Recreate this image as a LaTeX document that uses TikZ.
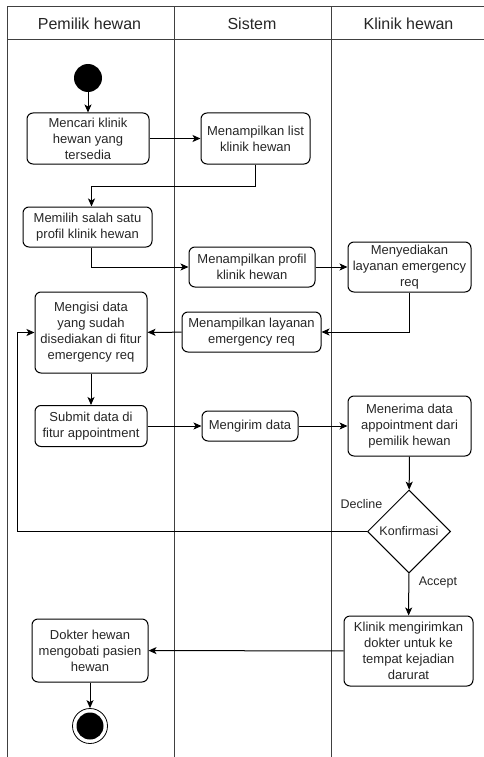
\documentclass[tikz,border=0pt]{standalone}
\usepackage{fontspec}
\setmainfont{Liberation Sans}
\usetikzlibrary{
    calc,
    arrows.meta,
    shapes.geometric
}
\tikzset{
  activity/.style={draw, rounded corners=6pt, line width=1pt, align=center,
    inner sep=1pt, text=black!85, font=\fontsize{13}{16}\selectfont},
  decision/.style={draw, diamond, aspect=1, line width=1pt, inner sep=0pt,
    minimum width=83pt, minimum height=83pt, text=black!85,
    font=\fontsize{12.5}{15}\selectfont},
  flow/.style={line width=1pt, -{Stealth[length=8pt,width=7pt,inset=2pt]}},
  lane/.style={line width=1pt, draw=black!75},
  header/.style={text=black!85, font=\fontsize{16}{19}\selectfont},
  guard/.style={text=black!85, font=\fontsize{12.5}{15}\selectfont}
}

\begin{document}
\begin{tikzpicture}[x=1pt,y=-1pt]
  \useasboundingbox (0,0) rectangle (484,757);

  % swimlanes
  \draw[lane] (484,7) -- (7,7) -- (7,757);
  \draw[lane] (7,40) -- (484,40);
  \draw[lane] (174,7) -- (174,757);
  \draw[lane] (331,7) -- (331,757);

  \node[header] (hdrPemilik) at (89.5,23.5) {Pemilik hewan};
  \node[header] (hdrSistem)  at (252,23.5)  {Sistem};
  \node[header] (hdrKlinik)  at (408.5,23.5) {Klinik hewan};

  % start and end
  \node[circle, fill=black, minimum size=28pt, inner sep=0pt] (start) at (88,78) {};
  \node[circle, draw, line width=0.8pt, minimum size=35pt, inner sep=0pt] (finish) at (90,726) {};
  \fill (finish) circle (13.5);

  % activities
  \node[activity, minimum width=122pt, minimum height=51pt] (cari) at (88,138.5)
    {Mencari klinik\\hewan yang\\tersedia};
  \node[activity, minimum width=109pt, minimum height=51pt] (listKlinik) at (255.5,138.5)
    {Menampilkan list\\klinik hewan};
  \node[activity, minimum width=129pt, minimum height=40pt] (pilih) at (87.5,227)
    {Memilih salah satu\\profil klinik hewan};
  \node[activity, minimum width=126pt, minimum height=40pt] (profil) at (252,267)
    {Menampilkan profil\\klinik hewan};
  \node[activity, minimum width=123pt, minimum height=50pt] (sedia) at (409.5,267)
    {Menyediakan\\layanan emergency\\req};
  \node[activity, minimum width=139pt, minimum height=40pt] (layanan) at (251.5,332)
    {Menampilkan layanan\\emergency req};
  \node[activity, minimum width=112pt, minimum height=81pt] (isi) at (91,332.5)
    {Mengisi data\\yang sudah\\disediakan di fitur\\emergency req};
  \node[activity, minimum width=112pt, minimum height=41pt] (submit) at (91,426)
    {Submit data di\\fitur appointment};
  \node[activity, minimum width=96pt, minimum height=30pt] (kirim) at (250,426)
    {Mengirim data};
  \node[activity, minimum width=123pt, minimum height=60pt] (terima) at (409.5,426)
    {Menerima data\\appointment dari\\pemilik hewan};
  \node[decision] (konfirmasi) at (409,531.5) {Konfirmasi};
  \node[activity, minimum width=129pt, minimum height=70pt] (dokterKirim) at (408.5,651)
    {Klinik mengirimkan\\dokter untuk ke\\tempat kejadian\\darurat};
  \node[activity, minimum width=116pt, minimum height=63pt] (obati) at (90,650.5)
    {Dokter hewan\\mengobati pasien\\hewan};

  \coordinate (loopL) at (17,531.5);

  % flows
  \draw[flow] (start) -- (start |- cari.north);
  \draw[flow] (cari) -- (listKlinik);
  \draw[flow] (listKlinik.south) -- ++(0,22) -| ([xshift=4pt]pilih.north);
  \draw[flow] ([xshift=4pt]pilih.south) |- (profil.west);
  \draw[flow] (profil) -- (sedia);
  \draw[flow] (sedia.south) |- (layanan.east);
  \draw[flow] (layanan) -- (isi);
  \draw[flow] (isi) -- (submit);
  \draw[flow] (submit) -- (kirim);
  \draw[flow] (kirim) -- (terima);
  \draw[flow] (terima) -- (konfirmasi);
  \draw[flow] (konfirmasi.west) -- (loopL) |- (isi.west);
  \draw[flow] (konfirmasi) -- (dokterKirim);
  \draw[flow] (dokterKirim) -- (obati);
  \draw[flow] (obati) -- (finish);

  \node[guard] (lblDecline) at (361.5,504) {Decline};
  \node[guard] (lblAccept)  at (438,582)   {Accept};
\end{tikzpicture}
\end{document}
